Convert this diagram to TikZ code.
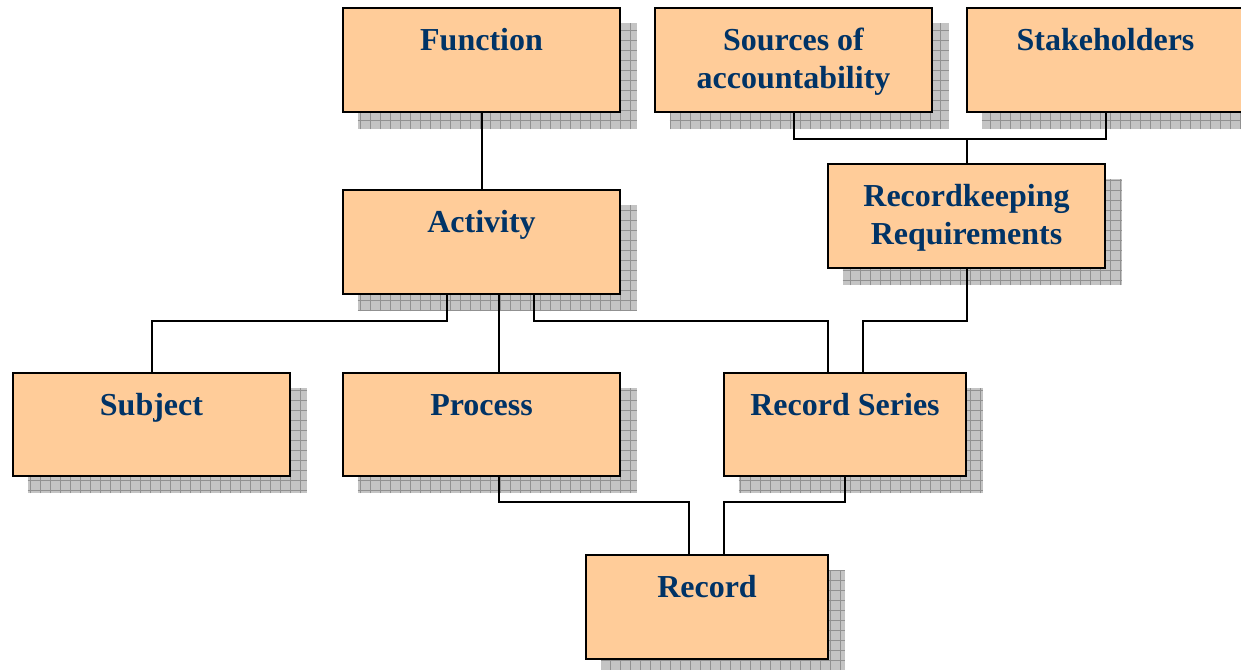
\documentclass[tikz,border=0pt]{standalone}
\usepackage{fontspec}
\setmainfont{Liberation Serif}
\pgfdeclarelayer{shadowlayer}
\pgfdeclarelayer{linelayer}
\pgfsetlayers{shadowlayer,linelayer,main}
\definecolor{boxfill}{RGB}{255,204,153}
\definecolor{navytext}{RGB}{0,51,102}
\definecolor{shadowfillc}{RGB}{196,196,196}
\definecolor{shadowgridc}{RGB}{145,145,145}
\tikzset{
  box/.style={draw=black, line width=2pt, fill=boxfill, rectangle, inner sep=0pt,
              minimum width=207.75pt, minimum height=78pt},
  narrowbox/.style={box, minimum width=181.5pt},
  lab/.style={anchor=base, align=center, inner sep=0pt, text=navytext,
              font=\fontsize{24pt}{28.5pt}\selectfont\bfseries},
  conn/.style={draw=black, line width=1.5pt},
  shadowgrid/.style={draw=shadowgridc, line width=0.5pt},
}
\newcommand{\boxshadow}[1]{%
  \begin{scope}
    \clip ([shift={(16,16)}]#1.north west) rectangle ([shift={(16,16)}]#1.south east);
    \fill[shadowfillc] ([shift={(16,16)}]#1.north west) rectangle ([shift={(16,16)}]#1.south east);
    \draw[shadowgrid, step=7.5pt] ([shift={(16,16)}]#1.north west) grid ([shift={(16,16)}]#1.south east);
  \end{scope}}
% #1 box, #2 label name, #3 baseline shift of the last line, #4 text
\newcommand{\boxlabel}[4]{%
  \node[lab] (#2) at ([yshift=-#3]#1.north) {#4};}
\begin{document}
\begin{tikzpicture}[x=0.75pt, y=-0.75pt]
\useasboundingbox (0,0) rectangle (1241,669);
% boxes
\node[box] (fn)  at (481.5,60) {};
\node[box] (src) at (793.5,60) {};
\node[box] (stk) at (1105.5,60) {};
\node[box] (act) at (481.5,242) {};
\node[box] (rk)  at (966.5,216) {};
\node[box, minimum height=77.25pt] (sub) at (151.5,424.5) {};
\node[box, minimum height=77.25pt] (pro) at (481.5,424.5) {};
\node[narrowbox, minimum height=77.25pt] (rs) at (845,424.5) {};
\node[narrowbox] (rec) at (707,607) {};
% labels
\boxlabel{fn}{fnl}{32.5pt}{Function}
\boxlabel{src}{srcl}{61pt}{Sources of\\accountability}
\boxlabel{stk}{stkl}{32.5pt}{Stakeholders}
\boxlabel{act}{actl}{32.5pt}{Activity}
\boxlabel{rk}{rkl}{61pt}{Recordkeeping\\Requirements}
\boxlabel{sub}{subl}{32.5pt}{Subject}
\boxlabel{pro}{prol}{32.5pt}{Process}
\boxlabel{rs}{rsl}{32.5pt}{Record Series}
\boxlabel{rec}{recl}{32.5pt}{Record}
% shadows
\begin{pgfonlayer}{shadowlayer}
\foreach \b in {fn,src,stk,act,rk,sub,pro,rs,rec}{\boxshadow{\b}}
\end{pgfonlayer}
% connectors
\coordinate (j1) at (966.5,139);
\coordinate (b1) at (447,321);
\coordinate (b2) at (499,321);
\coordinate (b3) at (534,321);
\coordinate (b4) at (828,321);
\coordinate (b5) at (863,321);
\coordinate (b6) at (499,502);
\coordinate (b7) at (689,502);
\coordinate (b9) at (724,502);
\begin{pgfonlayer}{linelayer}
\draw[conn] (fn.south) -- (act.north);
\draw[conn] (src.south) |- (j1) -| (stk.south);
\draw[conn] (rk.north) -- (j1);
\draw[conn] (act.south -| b1) -- (b1) -| (sub.north);
\draw[conn] (act.south -| b2) -- (pro.north -| b2);
\draw[conn] (act.south -| b3) -- (b3) -- (b4) -- (rs.north -| b4);
\draw[conn] (rk.south) |- (b5) -- (rs.north -| b5);
\draw[conn] (pro.south -| b6) -- (b6) -- (b7) -- (rec.north -| b7);
\draw[conn] (rs.south) |- (b9) -- (rec.north -| b9);
\end{pgfonlayer}
\end{tikzpicture}
\end{document}
